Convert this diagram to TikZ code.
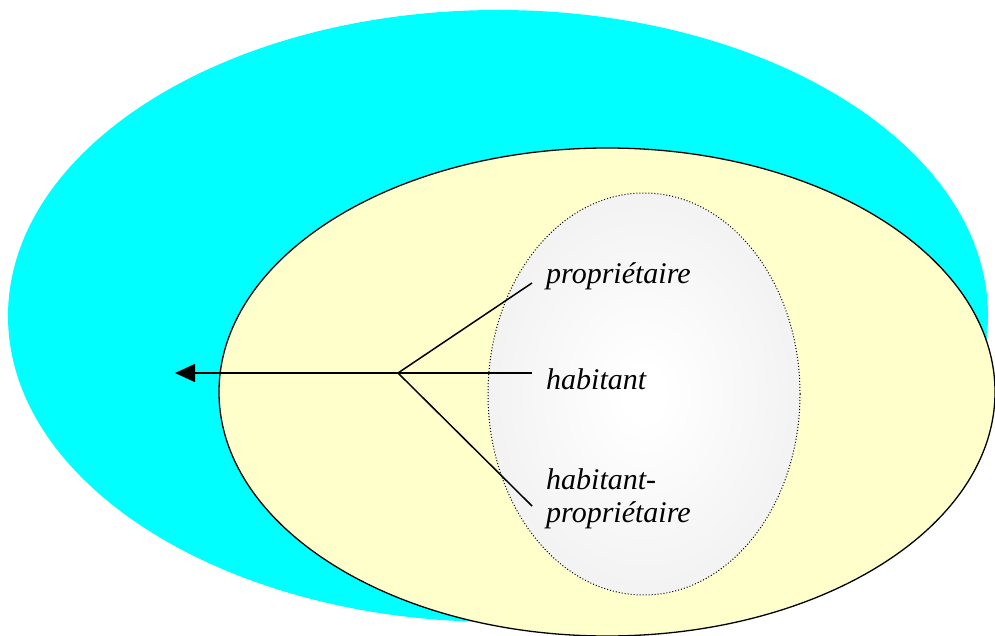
\documentclass[tikz,border=0pt]{standalone}
\usepackage{fontspec}
\setmainfont{Liberation Serif}
\usetikzlibrary{arrows.meta}
\definecolor{cyanfill}{RGB}{0,255,255}
\definecolor{yellowfill}{RGB}{255,255,204}
\definecolor{grayedge}{RGB}{243,243,243}
\pgfdeclareradialshading{softrad}{\pgfpoint{0bp}{0bp}}{color(0bp)=(white); color(3bp)=(white); color(24bp)=(grayedge); color(100bp)=(grayedge)}
\tikzset{
  lbl/.style={anchor=west,inner sep=0pt,font=\fontsize{30}{33}\selectfont\itshape,align=left},
  conn/.style={line width=1.5pt,black},
}
\begin{document}
\begin{tikzpicture}[x=1pt,y=-1pt]
\useasboundingbox (0,0) rectangle (995,636);
\begin{scope}
\clip (0,0) rectangle (995,636);
\fill[cyanfill] (498,316) ellipse [x radius=490,y radius=306];
\filldraw[fill=yellowfill,draw=black,line width=1.3pt] (607,392) ellipse [x radius=388,y radius=244];
\shade[shading=softrad] (644,394) ellipse [x radius=156,y radius=201];
\draw[black,dotted,line width=1pt] (644,394) ellipse [x radius=156,y radius=201];
\end{scope}
\node[lbl] (p) at (546,276) {propriétaire};
\node[lbl] (h) at (546,379) {habitant};
\node[lbl] (hp) at (546,499) {habitant-\\propriétaire};
\coordinate (b) at (398,373);
\coordinate (tip) at (175,373);
\coordinate (e1) at (532,283);
\coordinate (e2) at (532,373);
\coordinate (e3) at (532,506);
\draw[conn,-{Triangle[length=20pt,width=18pt]}] (b) -- (tip);
\draw[conn] (b) -- (e1);
\draw[conn] (b) -- (e2);
\draw[conn] (b) -- (e3);
\end{tikzpicture}
\end{document}
